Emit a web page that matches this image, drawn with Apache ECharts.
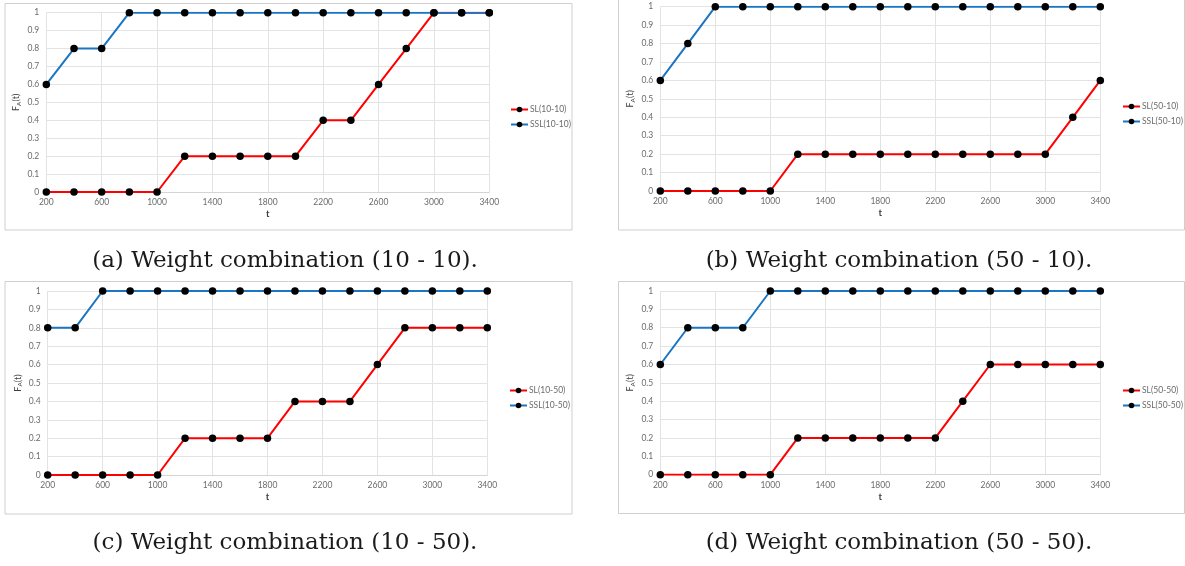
<!DOCTYPE html>
<html>
<head>
<meta charset="utf-8">
<script src="https://cdn.jsdelivr.net/npm/echarts@6/dist/echarts.min.js"></script>
<style>
html,body{margin:0;padding:0;background:#fff;}
#c{width:1185px;height:566px;}
</style>
</head>
<body>
<div id="c"></div>
<script>
// ---- data ----
const tValues = ['200','400','600','800','1000','1200','1400','1600','1800','2000','2200','2400','2600','2800','3000','3200','3400'];
const yTicks = [0,0.1,0.2,0.3,0.4,0.5,0.6,0.7,0.8,0.9,1];

const slA  = [0,0,0,0,0,0.2,0.2,0.2,0.2,0.2,0.4,0.4,0.6,0.8,1,1,1];
const sslA = [0.6,0.8,0.8,1,1,1,1,1,1,1,1,1,1,1,1,1,1];
const slB  = [0,0,0,0,0,0.2,0.2,0.2,0.2,0.2,0.2,0.2,0.2,0.2,0.2,0.4,0.6];
const sslB = [0.6,0.8,1,1,1,1,1,1,1,1,1,1,1,1,1,1,1];
const slC  = [0,0,0,0,0,0.2,0.2,0.2,0.2,0.4,0.4,0.4,0.6,0.8,0.8,0.8,0.8];
const sslC = [0.8,0.8,1,1,1,1,1,1,1,1,1,1,1,1,1,1,1];
const slD  = [0,0,0,0,0,0.2,0.2,0.2,0.2,0.2,0.2,0.4,0.6,0.6,0.6,0.6,0.6];
const sslD = [0.6,0.8,0.8,0.8,1,1,1,1,1,1,1,1,1,1,1,1,1];

const panelNames = ['10-10','50-10','10-50','50-50'];
const panelLetters = ['a','b','c','d'];
const slData = [slA, slB, slC, slD];
const sslData = [sslA, sslB, sslC, sslD];

// ---- layout ----
const layout = [
  {grid:{left:46.3, top:12.7, width:443, height:179.3}, box:[5,3.5,567,226.5], legend:{left:510, top:104.5}, cap:[285,261]},
  {grid:{left:660.3, top:6.7, width:440, height:184.3}, box:[618.5,-2,566,232], legend:{left:1122, top:101.5}, cap:[899,261]},
  {grid:{left:47.7, top:291, width:439.6, height:184}, box:[5,281.5,567,232.5], legend:{left:509, top:385.5}, cap:[285,543]},
  {grid:{left:660.3, top:291, width:440, height:183.7}, box:[618.5,281.5,566,232], legend:{left:1122, top:385.5}, cap:[899,543]}
];

const labelColor = '#6b6b6b';
const tickFont = 'Lato, "Open Sans", sans-serif';

const grids=[], xAxes=[], yAxes=[], series=[], legends=[], graphics=[];
for (let i=0;i<4;i++){
  const L = layout[i];
  grids.push(Object.assign({outerBoundsMode:'none', containLabel:false}, L.grid));
  xAxes.push({
    type:'category', gridIndex:i, data:tValues, boundaryGap:false,
    name:'t', nameLocation:'middle', nameGap:17,
    nameTextStyle:{color:'#404040', fontSize:9.5, fontWeight:'bold', fontFamily:tickFont},
    axisLine:{lineStyle:{color:'#d4d4d4', width:1}},
    axisTick:{show:false},
    axisLabel:{interval:1, color:labelColor, fontSize:8.5, fontFamily:tickFont, margin:6},
    splitLine:{show:true, interval:1, lineStyle:{color:'#e3e3e3', width:1}}
  });
  yAxes.push({
    type:'value', gridIndex:i, min:0, max:1, interval:0.1,
    name:'{f|F}{s|A}{f|(t)}', nameLocation:'middle', nameGap:24, nameRotate:90,
    nameTextStyle:{color:'#404040', fontFamily:tickFont,
      rich:{f:{fontSize:9, color:'#404040', fontFamily:tickFont}, s:{fontSize:6.5, color:'#404040', verticalAlign:'bottom', padding:[5,0,0,0], fontFamily:tickFont}}},
    axisLine:{show:false}, axisTick:{show:false},
    axisLabel:{color:labelColor, fontSize:8.5, fontFamily:tickFont, margin:7,
      formatter:function(v){ return String(Math.round(v*10)/10); }},
    splitLine:{lineStyle:{color:'#e3e3e3', width:1}}
  });
  const slName = 'SL(' + panelNames[i] + ')';
  const sslName = 'SSL(' + panelNames[i] + ')';
  series.push({
    name:slName, type:'line', xAxisIndex:i, yAxisIndex:i, data:slData[i],
    symbol:'circle', symbolSize:7.5, showSymbol:true,
    lineStyle:{color:'#ff0000', width:2}, itemStyle:{color:'#000'}, z:3
  });
  series.push({
    name:sslName, type:'line', xAxisIndex:i, yAxisIndex:i, data:sslData[i],
    symbol:'circle', symbolSize:7.5, showSymbol:true,
    lineStyle:{color:'#1a75c2', width:2}, itemStyle:{color:'#000'}, z:3
  });
  legends.push({
    data:[slName, sslName], orient:'vertical', left:L.legend.left, top:L.legend.top,
    itemWidth:17, itemHeight:7, itemGap:5, padding:0, selectedMode:false,
    textStyle:{color:labelColor, fontSize:8.5, fontFamily:tickFont, lineHeight:10, padding:[0,0,0,-3]}
  });
  graphics.push({
    type:'rect', shape:{x:L.box[0], y:L.box[1], width:L.box[2], height:L.box[3]},
    style:{fill:'none', stroke:'#cfcfcf', lineWidth:1}, silent:true, z:-10
  });
  graphics.push({
    type:'text', x:L.cap[0], y:L.cap[1],
    style:{text:'(' + panelLetters[i] + ') Weight combination (' + panelNames[i].replace('-', ' - ') + ').',
      font:'23px "DejaVu Serif", serif', fill:'#1a1a1a', align:'center', verticalAlign:'middle'},
    silent:true
  });
}

const chart = echarts.init(document.getElementById('c'), null, {renderer:'canvas'});
chart.setOption({
  animation:false,
  backgroundColor:'#ffffff',
  grid:grids, xAxis:xAxes, yAxis:yAxes, series:series, legend:legends,
  graphic:graphics
});
</script>
</body>
</html>
